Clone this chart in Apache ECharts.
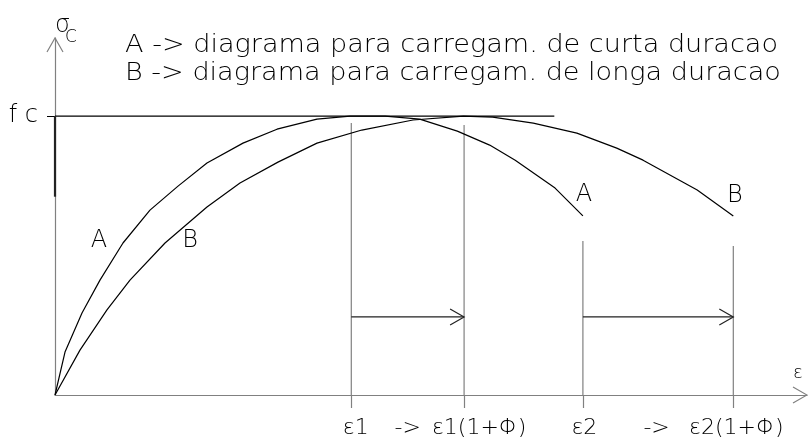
<!DOCTYPE html>
<html>
<head>
<meta charset="utf-8">
<script src="https://cdn.jsdelivr.net/npm/echarts@6/dist/echarts.min.js"></script>
<style>
  html, body { margin: 0; padding: 0; background: #fff; }
  #chart { width: 808px; height: 444px; }
</style>
</head>
<body>
<div id="chart"></div>
<script>
// Strain in arbitrary units (0..100 along the ε axis), stress in % of fc.
const curveA = [[0,0],[1.33,15.4],[3.59,29.4],[5.98,41.2],[9.04,54.5],[12.63,66.3],[16.36,74.9],[20.21,83.2],[25.0,90.3],[29.52,95.3],[34.84,98.9],[39.23,100],[43.9,100],[48.5,98.9],[53.5,94.6],[57.8,89.6],[61.2,84.2],[66.5,74.2],[70.2,64.2]];
const curveB = [[0,0],[3.32,16.1],[6.91,30.5],[9.97,41.2],[14.63,54.5],[20.21,67.4],[24.6,76.0],[29.65,83.5],[34.84,90.3],[40.8,95.0],[47.6,98.6],[54.3,100],[58.2,99.6],[63.6,97.5],[69.4,93.9],[74.7,88.5],[78.2,84.2],[85.4,73.5],[90.2,64.2]];

const fcLevel = 100;
const fcLineEnd = 66.4;
const thickAxisFrom = 71.1;

const strainMarks = [39.4, 54.4, 70.2, 90.2];
const strainMarkTops = [97.5, 96.8, 55.2, 53.4];
const creepArrowLevel = 28;

// ε axis annotations: text and where it sits along the axis
const strainLabelText = ['ε1', '->', 'ε1(1+Φ)', 'ε2', '->', 'ε2(1+Φ)'];
const strainLabelPos = [40.0, 46.9, 56.4, 70.4, 80.0, 90.6];

const curveLabelsA = [[5.85, 55.2], [70.35, 71.7]];
const curveLabelsB = [[17.95, 55.2], [90.4, 71.3]];

const legendLines = [
  'A -> diagrama para carregam. de curta duracao',
  'B -> diagrama para carregam. de longa duracao'
];

const FONT = '"DejaVu Sans"';
const WEIGHT = '200';
const AXIS_GRAY = '#808080';
const INK = '#000';

// stretch the legend text so that it spans the requested width
function fitScale(text, size, width) {
  const ctx = document.createElement('canvas').getContext('2d');
  ctx.font = WEIGHT + ' ' + size + 'px ' + FONT;
  return width / ctx.measureText(text).width;
}
const legendScale = fitScale(legendLines[0], 24, 653);

const chart = echarts.init(document.getElementById('chart'), null, { renderer: 'canvas' });

function xLabelText(v) {
  const i = strainLabelPos.indexOf(v);
  return i >= 0 ? strainLabelText[i] : '';
}

function labelPoints(points, text) {
  return points.map(p => ({ coord: p, value: text }));
}

const verticalSeries = strainMarks.map((x, i) => ({
  type: 'line',
  data: [[x, 0], [x, strainMarkTops[i]]],
  symbol: 'none',
  silent: true,
  lineStyle: { color: AXIS_GRAY, width: 1.2 },
  z: 1
}));

// open chevron arrow heads; dir 0 = pointing right, 1 = pointing up
function chevronSeries(heads, color) {
  return {
    type: 'custom', coordinateSystem: 'cartesian2d', clip: false, silent: true, z: 6,
    data: heads,
    renderItem(params, api) {
      const p = api.coord([api.value(0), api.value(1)]);
      const L = 14, W = 8;
      const pts = api.value(2) === 0
        ? [[p[0] - L, p[1] - W], [p[0], p[1]], [p[0] - L, p[1] + W]]
        : [[p[0] - W, p[1] + L], [p[0], p[1]], [p[0] + W, p[1] + L]];
      return { type: 'polyline', shape: { points: pts }, style: { stroke: color, fill: null, lineWidth: 1.2 } };
    }
  };
}

const X_MAX = 100, Y_MAX = 128;

const option = {
  animation: false,
  backgroundColor: '#fff',
  grid: { left: 55, right: 1, top: 38, bottom: 49, outerBoundsMode: 'none' },
  xAxis: {
    type: 'value', min: 0, max: X_MAX,
    axisLine: { show: true, onZero: false, lineStyle: { color: AXIS_GRAY, width: 1.2 } },
    axisTick: { show: true, customValues: strainMarks, length: 13, inside: false, lineStyle: { color: AXIS_GRAY, width: 1.2 } },
    axisLabel: {
      show: true, customValues: strainLabelPos, formatter: xLabelText, margin: 22,
      fontFamily: 'DejaVu Sans', fontWeight: WEIGHT, fontSize: 22, color: INK
    },
    splitLine: { show: false }
  },
  yAxis: {
    type: 'value', min: 0, max: Y_MAX,
    axisLine: { show: true, onZero: false, lineStyle: { color: AXIS_GRAY, width: 1.2 } },
    axisTick: { show: true, customValues: [fcLevel], length: 8, lineStyle: { color: INK, width: 1 } },
    axisLabel: {
      show: true, customValues: [fcLevel], formatter: () => 'f c', margin: 17,
      fontFamily: 'DejaVu Sans', fontWeight: WEIGHT, fontSize: 24, color: INK
    },
    splitLine: { show: false }
  },
  graphic: [
    { type: 'text', x: 125, y: 46, scaleX: legendScale,
      style: { text: legendLines[0], font: WEIGHT + ' 24px ' + FONT, fill: INK, verticalAlign: 'middle' } },
    { type: 'text', x: 125, y: 74, scaleX: legendScale,
      style: { text: legendLines[1], font: WEIGHT + ' 24px ' + FONT, fill: INK, verticalAlign: 'middle' } },
    { type: 'text', x: 55, y: 26, style: { text: 'σ', font: WEIGHT + ' 24px ' + FONT, fill: INK, verticalAlign: 'middle' } },
    { type: 'text', x: 65, y: 38, style: { text: 'C', font: WEIGHT + ' 17px ' + FONT, fill: INK, verticalAlign: 'middle' } },
    { type: 'text', x: 793, y: 373, style: { text: 'ε', font: WEIGHT + ' 18px ' + FONT, fill: INK, verticalAlign: 'middle' } }
  ],
  series: [
    ...verticalSeries,
    {
      name: 'fc', type: 'line', data: [[0, fcLevel], [fcLineEnd, fcLevel]],
      symbol: 'none', silent: true, lineStyle: { color: INK, width: 1.2 }, z: 2
    },
    {
      name: 'axis-fc', type: 'line', data: [[0, thickAxisFrom], [0, fcLevel]],
      symbol: 'none', silent: true, lineStyle: { color: '#222', width: 2.2 }, z: 3
    },
    {
      name: 'A', type: 'line', data: curveA, symbol: 'none',
      lineStyle: { color: INK, width: 1.2 }, z: 4,
      markPoint: {
        symbol: 'circle', symbolSize: 0, silent: true,
        label: { show: true, position: 'inside', formatter: '{c}', fontFamily: 'DejaVu Sans', fontWeight: WEIGHT, fontSize: 24, color: INK },
        data: labelPoints(curveLabelsA, 'A')
      }
    },
    {
      name: 'B', type: 'line', data: curveB, symbol: 'none',
      lineStyle: { color: INK, width: 1.2 }, z: 4,
      markPoint: {
        symbol: 'circle', symbolSize: 0, silent: true,
        label: { show: true, position: 'inside', formatter: '{c}', fontFamily: 'DejaVu Sans', fontWeight: WEIGHT, fontSize: 24, color: INK },
        data: labelPoints(curveLabelsB, 'B')
      }
    },
    {
      name: 'creep', type: 'line', symbol: 'none', silent: true, z: 5,
      lineStyle: { color: '#222', width: 1.2 },
      data: [[strainMarks[0], creepArrowLevel], [strainMarks[1], creepArrowLevel], null,
             [strainMarks[2], creepArrowLevel], [strainMarks[3], creepArrowLevel]],
      connectNulls: false
    },
    chevronSeries([[strainMarks[1], creepArrowLevel, 0], [strainMarks[3], creepArrowLevel, 0]], '#222'),
    chevronSeries([[X_MAX, 0, 0], [0, Y_MAX, 1]], AXIS_GRAY)
  ]
};

chart.setOption(option);
</script>
</body>
</html>
